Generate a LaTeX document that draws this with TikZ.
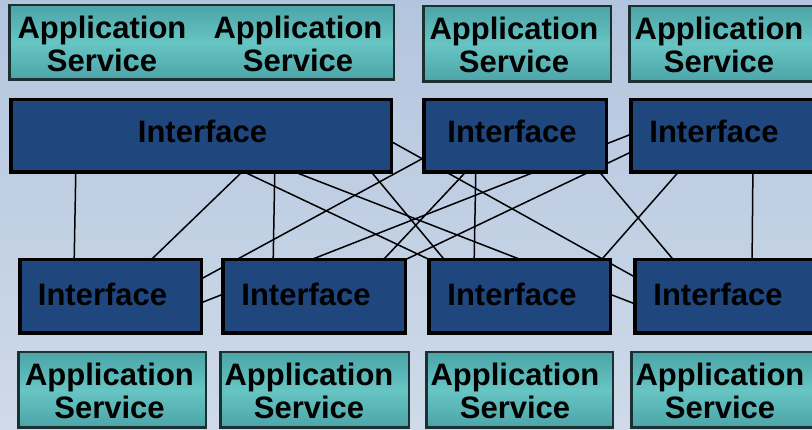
\documentclass[tikz,border=0pt]{standalone}
\usepackage{fontspec}
\setmainfont{Liberation Sans}
\definecolor{bgtop}{RGB}{179,197,222}
\definecolor{bgbot}{RGB}{207,218,233}
\definecolor{ifblue}{RGB}{31,71,126}
\definecolor{teallight}{RGB}{103,197,195}
\definecolor{tealdark}{RGB}{76,164,168}
\definecolor{asborder}{RGB}{28,48,50}
\begin{document}
\begin{tikzpicture}[x=1pt,y=-1pt,
  iface/.style={draw=black, line width=3.5pt, fill=ifblue, inner sep=0pt},
  appsvc/.style={draw=asborder, line width=2.5pt, top color=tealdark, bottom color=tealdark, middle color=teallight, inner sep=0pt},
  lbl/.style={font=\fontsize{31}{33}\selectfont\bfseries, align=center, inner sep=0pt, text=black},
  link/.style={line width=1.5pt, draw=black}]
\fill[top color=bgtop, bottom color=bgbot] (0,0) rectangle (812,430);
\useasboundingbox (0,0) rectangle (812,430);

% connector end points (inside the boxes, which are drawn on top)
\coordinate (l1a) at (76,160);    \coordinate (l1b) at (74,270);
\coordinate (l2a) at (256.5,158); \coordinate (l2b) at (139.5,271);
\coordinate (l3a) at (275,160);   \coordinate (l3b) at (273,270);
\coordinate (l4a) at (190,285);   \coordinate (l4b) at (440,149);
\coordinate (l5a) at (375,132.5); \coordinate (l5b) at (660,291);
\coordinate (l6a) at (240,170);   \coordinate (l6b) at (445,267);
\coordinate (l7a) at (170,315);   \coordinate (l7b) at (650,126.8);
\coordinate (l8a) at (650,143);   \coordinate (l8b) at (390,267);
\coordinate (l9a) at (476,160);   \coordinate (l9b) at (474,270);
\coordinate (l10a) at (477,160);  \coordinate (l10b) at (373.7,270);
\coordinate (l12a) at (689,160);  \coordinate (l12b) at (592.4,270);
\coordinate (l13a) at (589.4,160);\coordinate (l13b) at (682,270);
\coordinate (l14a) at (753,160);  \coordinate (l14b) at (752,270);
\coordinate (l15a) at (365.5,165);\coordinate (l15b) at (453,270);
\coordinate (l16a) at (290,170.2);\coordinate (l16b) at (660,313.6);

\foreach \n in {1,2,3,4,5,6,7,8,9,10,12,13,14,15,16}
  \draw[link] (l\n a) -- (l\n b);

% application services, top
\node[appsvc, minimum width=384.5, minimum height=74.5] (AS1) at (201.5,42.5) {};
\node[appsvc, minimum width=187.5, minimum height=75.5] (AS2) at (517,44) {};
\node[appsvc, minimum width=185.5, minimum height=75.5] (AS3) at (722,44) {};
% interfaces, top
\node[iface, minimum width=380.5, minimum height=72.5] (I1) at (201,136) {};
\node[iface, minimum width=182.5, minimum height=72.5] (I2) at (515,136) {};
\node[iface, minimum width=183.5, minimum height=72.5] (I3) at (722.5,136) {};
% interfaces, bottom
\node[iface, minimum width=181.5, minimum height=73.5] (I4) at (110.5,296.5) {};
\node[iface, minimum width=182.5, minimum height=73.5] (I5) at (314,296.5) {};
\node[iface, minimum width=181.5, minimum height=73.5] (I6) at (519.5,296.5) {};
\node[iface, minimum width=179.5, minimum height=73.5] (I7) at (724.5,296.5) {};
% application services, bottom
\node[appsvc, minimum width=187.5, minimum height=75.5] (AS4) at (112,390) {};
\node[appsvc, minimum width=188.5, minimum height=75.5] (AS5) at (314.5,390) {};
\node[appsvc, minimum width=186.5, minimum height=75.5] (AS6) at (519.5,390) {};
\node[appsvc, minimum width=183.5, minimum height=75.5] (AS7) at (723,390) {};

% texts
\node[lbl] (t1a) at (102,43.5) {Application\\Service};
\node[lbl] (t1b) at (298,43.5) {Application\\Service};
\node[lbl] (t2) at (514,44.5) {Application\\Service};
\node[lbl] (t3) at (719,44.5) {Application\\Service};
\node[lbl, anchor=base] (ti1) at (202.5,143) {Interface};
\node[lbl, anchor=base] (ti2) at (512,143) {Interface};
\node[lbl, anchor=base] (ti3) at (714,143) {Interface};
\node[lbl, anchor=base] (ti4) at (102.5,306) {Interface};
\node[lbl, anchor=base] (ti5) at (306,306) {Interface};
\node[lbl, anchor=base] (ti6) at (512,306) {Interface};
\node[lbl, anchor=base] (ti7) at (718,306) {Interface};
\node[lbl] (t4) at (109.5,391) {Application\\Service};
\node[lbl] (t5) at (309,391) {Application\\Service};
\node[lbl] (t6) at (515,391) {Application\\Service};
\node[lbl] (t7) at (720,391) {Application\\Service};
\end{tikzpicture}
\end{document}
